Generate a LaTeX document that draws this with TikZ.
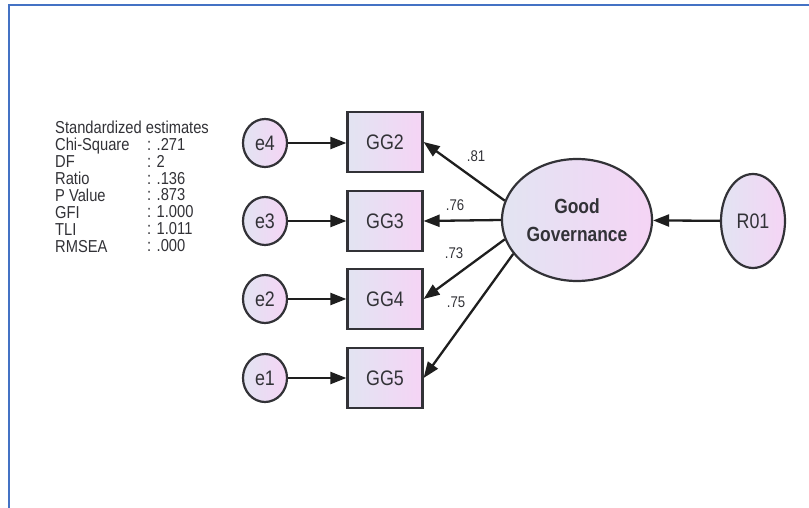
\documentclass[tikz,border=0pt]{standalone}
\usepackage{fontspec}
\setmainfont{Liberation Sans}[FakeStretch=0.85]
\usetikzlibrary{arrows.meta,shapes.geometric}
\definecolor{gradL}{RGB}{226,228,242}
\definecolor{gradR}{RGB}{245,212,245}
\definecolor{edge}{RGB}{50,50,55}
\definecolor{arrowc}{RGB}{30,30,30}
\definecolor{frameblue}{RGB}{68,114,196}
\tikzset{
  obsbox/.style={draw=edge, line width=2.2pt, left color=gradL, right color=gradR,
    minimum width=75pt, minimum height=60pt, inner sep=0pt,
    font=\fontsize{21}{23}\selectfont, text=edge},
  errnode/.style={ellipse, draw=edge, line width=2.2pt, left color=gradL, right color=gradR,
    minimum width=44pt, minimum height=48pt, inner sep=0pt,
    font=\fontsize{21}{23}\selectfont, text=edge},
  latent/.style={ellipse, draw=edge, line width=2.2pt, left color=gradL, right color=gradR,
    minimum width=150pt, minimum height=122pt, inner sep=0pt, align=center,
    font=\fontsize{20.5}{28}\selectfont\bfseries, text=edge},
  resnode/.style={ellipse, draw=edge, line width=2.2pt, left color=gradL, right color=gradR,
    minimum width=64pt, minimum height=94pt, inner sep=0pt,
    font=\fontsize{21}{23}\selectfont, text=edge},
  conn/.style={draw=arrowc, line width=2.3pt, -{Triangle[length=16pt,width=12pt]}},
  coef/.style={font=\fontsize{15.5}{17}\selectfont, text=edge, inner sep=0pt},
  stats/.style={font=\fontsize{17.3}{16.9}\selectfont, text=edge, align=left, inner sep=0pt, anchor=north west}
}
\begin{document}
\begin{tikzpicture}[x=1pt,y=-1pt]
\useasboundingbox[fill=white] (0,0) rectangle (809,508);
\draw[frameblue, line width=2.5pt] (9,508) -- (9,5) -- (809,5);

\node[stats] (statnames) at (55,121) {Standardized estimates\\Chi-Square\\DF\\Ratio\\P Value\\GFI\\TLI\\RMSEA};
\node[stats] (statvals) at (147,138) {: .271\\: 2\\: .136\\: .873\\: 1.000\\: 1.011\\: .000};

\node[obsbox] (g2) at (385,142) {GG2};
\node[obsbox] (g3) at (385,221) {GG3};
\node[obsbox] (g4) at (385,299) {GG4};
\node[obsbox] (g5) at (385,378) {GG5};

\node[errnode] (e4) at (265,143) {e4};
\node[errnode] (e3) at (265,221) {e3};
\node[errnode] (e2) at (265,299) {e2};
\node[errnode] (e1) at (265,378) {e1};

\node[latent] (gg) at (577,220) {Good\\Governance};
\node[resnode] (r01) at (753,221) {R01};

\draw[conn] (e4) -- (g2.west |- e4);
\draw[conn] (e3) -- (g3);
\draw[conn] (e2) -- (g4);
\draw[conn] (e1) -- (g5);

\draw[conn] (gg.165) -- (g2.east);
\draw[conn] (gg.180) -- (g3.east);
\draw[conn] (gg.195) -- (g4.east);
\draw[conn] (gg.208) -- (g5.east);
\draw[conn] (r01) -- (gg);

\node[coef] (c81) at (476,156) {.81};
\node[coef] (c76) at (455,205) {.76};
\node[coef] (c73) at (454,253) {.73};
\node[coef] (c75) at (456,302) {.75};
\end{tikzpicture}
\end{document}
